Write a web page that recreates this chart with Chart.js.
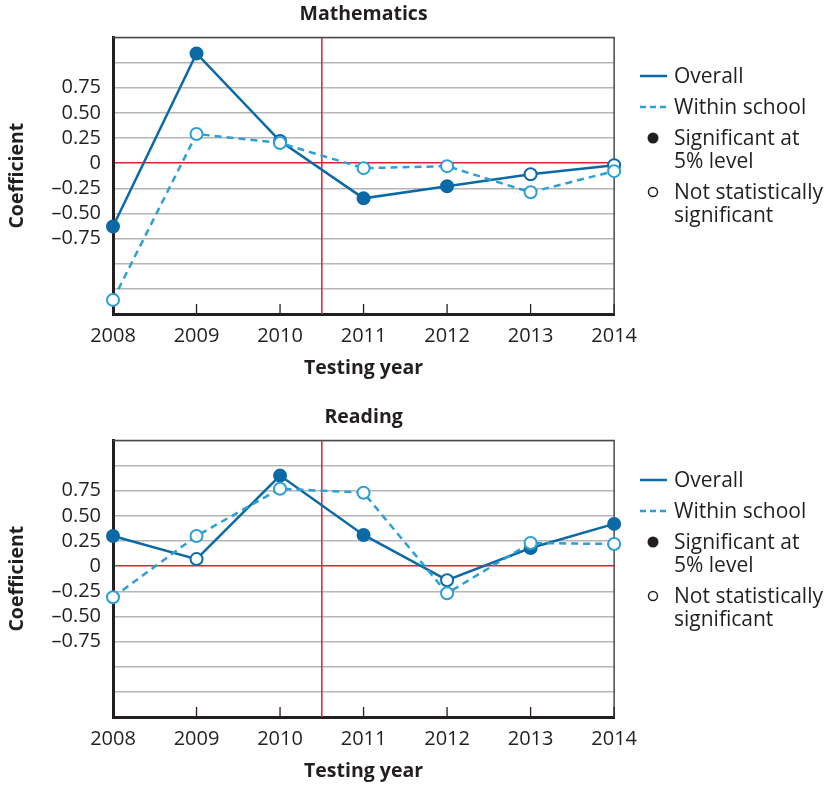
<!DOCTYPE html>
<html>
<head>
<meta charset="utf-8">
<script src="https://cdn.jsdelivr.net/npm/chart.js@4.4.1/dist/chart.umd.min.js"></script>
<style>
  html, body { margin: 0; padding: 0; background: #fff; }
  body { width: 830px; height: 786px; position: relative; font-family: 'Open Sans', sans-serif; color: #231f20; }
  .panel { position: absolute; left: 0; width: 830px; height: 383px; }
  .panel canvas { position: absolute; left: 0; top: 0; }
  .legend { position: absolute; left: 638px; top: 64px; font-size: 21px; line-height: 23px; }
  .legend .item { position: relative; padding-left: 36px; margin-bottom: 8px; }
  .legend svg { position: absolute; left: 0; top: 0; }
</style>
</head>
<body>
<div class="panel" style="top:0">
  <canvas id="chart-math" width="647" height="383"></canvas>
  <div class="legend" id="legend-math"></div>
</div>
<div class="panel" style="top:403px">
  <canvas id="chart-reading" width="647" height="383"></canvas>
  <div class="legend" id="legend-reading" style="top:65px"></div>
</div>
<script>
// ── Données ──

const years = ['2008', '2009', '2010', '2011', '2012', '2013', '2014'];
const splitAfter = '2010';

const mathOverall = [-0.63, 1.09, 0.22, -0.35, -0.23, -0.11, -0.02];
const mathOverallSig = [true, true, false, true, true, false, false];
const mathWithin = [-1.36, 0.29, 0.20, -0.05, -0.03, -0.29, -0.08];
const mathWithinSig = [false, false, false, false, false, false, false];

const readOverall = [0.30, 0.07, 0.90, 0.31, -0.14, 0.18, 0.42];
const readOverallSig = [true, false, true, true, false, true, true];
const readWithin = [-0.31, 0.30, 0.77, 0.73, -0.27, 0.23, 0.22];
const readWithinSig = [false, false, false, false, false, false, false];

const yMin = -1.5, yMax = 1.25, yStep = 0.25;
const yLabelLimit = 0.75;

const legendLabels = ['Overall', 'Within school', 'Significant at<br>5% level', 'Not statistically<br>significant'];

const DARK = '#0b6aa6';
const LIGHT = '#2c9fd5';
const INK = '#231f20';
const RED = '#e3212b';
const GRID = '#b5b5b5';

// ── Cadre, ligne de rupture et graduations internes ──

const framePlugin = {
  id: 'frame',
  beforeDatasetsDraw(chart) {
    const { ctx, chartArea: a, scales: { x } } = chart;
    ctx.save();
    // ligne verticale rouge entre 2010 et 2011
    const i = years.indexOf(splitAfter);
    const xs = (x.getPixelForValue(i) + x.getPixelForValue(i + 1)) / 2;
    ctx.strokeStyle = RED;
    ctx.lineWidth = 1.5;
    ctx.beginPath();
    ctx.moveTo(xs, a.top);
    ctx.lineTo(xs, a.bottom);
    ctx.stroke();
    // bord haut et droit
    ctx.strokeStyle = '#4a4a4a';
    ctx.lineWidth = 1.5;
    ctx.beginPath();
    ctx.moveTo(a.left, a.top);
    ctx.lineTo(a.right, a.top);
    ctx.lineTo(a.right, a.bottom);
    ctx.stroke();
    // graduations vers l'intérieur
    ctx.strokeStyle = INK;
    ctx.lineWidth = 1.3;
    years.forEach((_, k) => {
      const px = x.getPixelForValue(k);
      ctx.beginPath();
      ctx.moveTo(px, a.bottom);
      ctx.lineTo(px, a.bottom - 10);
      ctx.stroke();
    });
    ctx.restore();
  },
};

function formatCoef(v) {
  const r = Math.round(v * 100) / 100;
  if (Math.abs(r) > yLabelLimit + 1e-9) return '';
  if (r === 0) return '0';
  return (r < 0 ? '\u2013' : '') + Math.abs(r).toFixed(2);
}

function creerGraphique(id, titre, overall, overallSig, within, withinSig) {
  return new Chart(document.getElementById(id), {
    type: 'line',
    data: {
      labels: years,
      datasets: [
        {
          label: 'Within school',
          data: within,
          order: 0,
          borderColor: LIGHT,
          borderWidth: 2.5,
          borderDash: [7, 5],
          pointRadius: 6,
          pointBorderWidth: 2,
          pointBorderColor: LIGHT,
          pointBackgroundColor: withinSig.map(s => (s ? LIGHT : '#fff')),
          tension: 0,
          clip: false,
        },
        {
          label: 'Overall',
          data: overall,
          order: 1,
          borderColor: DARK,
          borderWidth: 2.5,
          pointRadius: 6,
          pointBorderWidth: 2,
          pointBorderColor: DARK,
          pointBackgroundColor: overallSig.map(s => (s ? DARK : '#fff')),
          tension: 0,
          clip: false,
        },
      ],
    },
    options: {
      responsive: false,
      devicePixelRatio: 1,
      animation: false,
      layout: { padding: { left: 0, right: 23, top: 0, bottom: 0 } },
      plugins: {
        legend: { display: false },
        tooltip: { enabled: false },
        title: {
          display: true,
          text: titre,
          fullSize: false,
          color: INK,
          font: { family: 'Open Sans', size: 19.5, weight: 'bold' },
          padding: { top: 3, bottom: 11 },
        },
      },
      scales: {
        x: {
          type: 'category',
          offset: false,
          grid: { display: false, drawTicks: false },
          border: { display: true, color: INK, width: 3 },
          ticks: { color: INK, font: { family: 'Open Sans', size: 20 }, padding: 10, maxRotation: 0 },
          title: {
            display: true,
            text: 'Testing year',
            color: INK,
            font: { family: 'Open Sans', size: 19.5, weight: 'bold' },
            padding: { top: 0, bottom: 3 },
          },
          afterFit: s => { s.height = 69; },
        },
        y: {
          min: yMin,
          max: yMax,
          grid: {
            drawTicks: false,
            lineWidth: 1.4,
            color: c => (Math.abs(c.tick.value) < 1e-9 ? RED : GRID),
          },
          border: { display: true, color: INK, width: 3 },
          ticks: {
            stepSize: yStep,
            autoSkip: false,
            color: INK,
            font: { family: 'Open Sans', size: 20 },
            padding: 12,
            callback: v => formatCoef(v),
          },
          title: {
            display: true,
            text: 'Coefficient',
            color: INK,
            font: { family: 'Open Sans', size: 19.5, weight: 'bold' },
            padding: { top: 6, bottom: 0 },
          },
          afterFit: s => { s.width = 113; },
        },
      },
    },
    plugins: [framePlugin],
  });
}

// ── Légende HTML ──

function symbole(k) {
  if (k === 0) return `<svg width="30" height="23"><line x1="2" y1="12" x2="29" y2="12" stroke="${DARK}" stroke-width="2.5"/></svg>`;
  if (k === 1) return `<svg width="30" height="23"><line x1="2" y1="12" x2="29" y2="12" stroke="${LIGHT}" stroke-width="2.5" stroke-dasharray="6,4"/></svg>`;
  if (k === 2) return `<svg width="30" height="23"><circle cx="15" cy="12" r="5.5" fill="${INK}"/></svg>`;
  return `<svg width="30" height="23"><circle cx="15" cy="12" r="4.5" fill="#fff" stroke="${INK}" stroke-width="1.5"/></svg>`;
}

function construireLegende(id) {
  document.getElementById(id).innerHTML = legendLabels
    .map((t, k) => `<div class="item">${symbole(k)}${t}</div>`)
    .join('');
}

creerGraphique('chart-math', 'Mathematics', mathOverall, mathOverallSig, mathWithin, mathWithinSig);
creerGraphique('chart-reading', 'Reading', readOverall, readOverallSig, readWithin, readWithinSig);
construireLegende('legend-math');
construireLegende('legend-reading');
</script>
</body>
</html>
